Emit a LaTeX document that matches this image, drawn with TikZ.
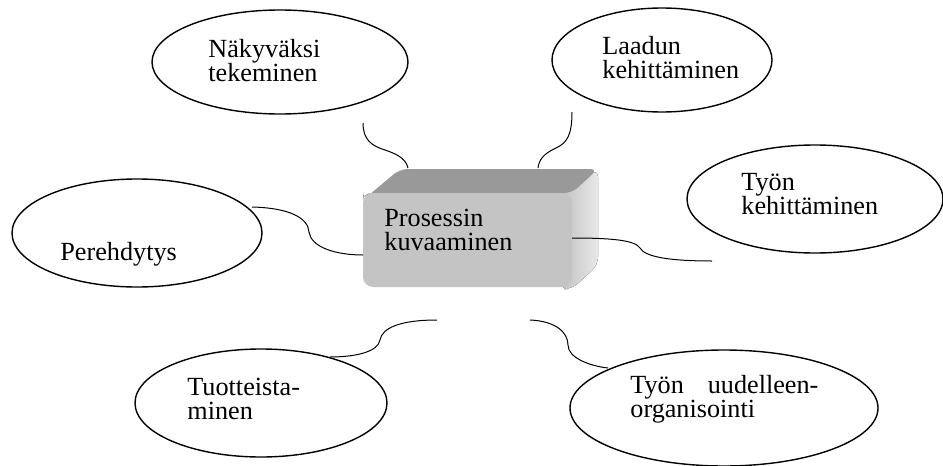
\documentclass[tikz,border=0pt]{standalone}
\usepackage{fontspec}
\setmainfont{Liberation Serif}
\usetikzlibrary{shapes.geometric}

\definecolor{boxfront}{gray}{0.77}
\definecolor{boxtop}{gray}{0.60}
\definecolor{boxside}{gray}{0.86}

\tikzset{
  bubble/.style={draw, ellipse, line width=0.7pt, inner sep=0pt},
  bubbletext/.style={align=left, anchor=base west, inner sep=0pt,
    font=\fontsize{13.1}{12}\selectfont},
  wire/.style={line width=0.5pt},
}

\begin{document}
\begin{tikzpicture}[x=0.5pt, y=-0.5pt]
    \useasboundingbox (0,0) rectangle (943,466);
    % Bubbles
    \node[bubble, minimum width=128pt, minimum height=52pt] (nak) at (280,62) {};
    \node[bubble, minimum width=110pt, minimum height=52pt] (laa) at (662,60) {};
    \node[bubble, minimum width=128pt, minimum height=54pt] (tyk) at (815,199) {};
    \node[bubble, minimum width=125pt, minimum height=54pt] (per) at (137,233) {};
    \node[bubble, minimum width=126pt, minimum height=54pt] (tuo) at (261,403) {};
    \node[bubble, minimum width=154pt, minimum height=58pt] (tyu) at (724,408) {};

    % Bubble texts (base = last line)
    \node[bubbletext] (nakt) at (208,81) {Näkyväksi\\tekeminen};
    \node[bubbletext] (laat) at (602,78) {Laadun\\kehittäminen};
    \node[bubbletext] (tykt) at (741,214) {Työn\\kehittäminen};
    \node[bubbletext] (pert) at (60,260) {Perehdytys};
    \node[bubbletext] (tuot) at (187,419) {Tuotteista-\\minen};
    \node[bubbletext, text width=94pt] (tyut) at (630,393) {Työn\hfill uudelleen-\\organisointi};

    % The box
    \fill[left color=boxside!88!black, right color=boxside!65!white, rounded corners=4pt]
        (560,193) -- (598,169) -- (598,265) -- (572,289) -- (560,289) -- cycle;
    \fill[boxtop, rounded corners=4pt]
        (363,200) -- (400,169) -- (598,169) -- (572,193) -- (363,193) -- cycle;
    \node[fill=boxfront, rounded corners=5pt, minimum width=104.5pt, minimum height=47pt,
        inner sep=0pt] (proc) at (467.5,240) {};
    \node[bubbletext] (proct) at (384,250) {Prosessin\\kuvaaminen};

    % Connector ends
    \coordinate (c1) at (363,123);
    \coordinate (c2) at (408,168);
    \coordinate (c3) at (572,112);
    \coordinate (c4) at (538,168);
    \coordinate (c5) at (252,207);
    \coordinate (c6) at (363,255);
    \coordinate (c7) at (572,238);
    \coordinate (c8) at (712,261);
    \coordinate (c9) at (437,320);
    \coordinate (c10) at (330,357);
    \coordinate (c11) at (530,320);
    \coordinate (c12) at (608,368);

    % Connectors
    \draw[wire] (c1) .. controls (363,140) and (372,146) .. (385,150)
        .. controls (400,155) and (406,160) .. (c2);
    \draw[wire] (c3) .. controls (572,135) and (567,143) .. (556,148)
        .. controls (543,154) and (539,160) .. (c4);
    \draw[wire] (c5) .. controls (290,208) and (308,218) .. (309,232)
        .. controls (311,247) and (335,255) .. (c6);
    \draw[wire] (c7) .. controls (610,238) and (635,240) .. (640,248)
        .. controls (645,257) and (670,261) .. (c8);
    \draw[wire] (c9) .. controls (400,320) and (382,328) .. (380,340)
        .. controls (378,352) and (355,357) .. (c10);
    \draw[wire] (c11) .. controls (555,321) and (568,332) .. (568,345)
        .. controls (568,358) and (590,366) .. (c12);
\end{tikzpicture}
\end{document}
